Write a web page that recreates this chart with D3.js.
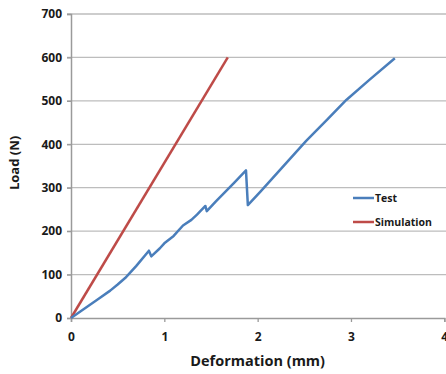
<!DOCTYPE html>
<html>
<head>
<meta charset="utf-8">
<script src="https://cdn.jsdelivr.net/npm/d3@7"></script>
<style>
  body { margin: 0; background: #fff; }
  svg text { font-family: "Open Sans", "DejaVu Sans", sans-serif; font-weight: bold; fill: #1a1a1a; }
</style>
</head>
<body>
<div id="chart"></div>
<script>
// tick labels
const xTicks = [0, 1, 2, 3, 4];
const yTicks = [0, 100, 200, 300, 400, 500, 600, 700];

// Test series (deformation mm, load N)
const testX = [0, 0.1, 0.2, 0.3, 0.42, 0.5, 0.58, 0.7, 0.835, 0.86, 0.95, 1.0, 1.1, 1.2, 1.29, 1.35, 1.44, 1.455, 1.55, 1.65, 1.75, 1.875, 1.895, 2.03, 2.24, 2.52, 2.75, 2.95, 3.2, 3.47];
const testY = [0, 15, 30, 45, 63, 77, 92, 120, 155, 142, 160, 172, 189, 213, 226, 238, 258, 246, 268, 290, 312, 340, 260, 291, 341, 408, 458, 502, 549, 598];

// Simulation series
const simX = [0, 1.68];
const simY = [0, 600];

const seriesNames = ["Test", "Simulation"];
const seriesColors = ["#4a7ebb", "#be4b48"];

var width = 446, height = 374;
var margin = { top: 14, right: 2, bottom: 56, left: 71 };

var svg = d3.select("#chart")
    .append("svg")
    .attr("width", width)
    .attr("height", height);

var x = d3.scaleLinear()
    .domain([0, 4])
    .range([margin.left, width - margin.right + 0.3]);

var y = d3.scaleLinear()
    .domain([0, 700])
    .range([height - margin.bottom, margin.top]);

// gridlines
svg.append("g")
    .selectAll("line")
    .data(yTicks.filter(function(d) { return d > 0; }))
    .join("line")
    .attr("x1", margin.left - 4)
    .attr("x2", width)
    .attr("y1", function(d) { return y(d); })
    .attr("y2", function(d) { return y(d); })
    .attr("stroke", "#bdbdbd")
    .attr("stroke-width", 1.3);

// y axis
var yAxis = svg.append("g")
    .attr("transform", "translate(" + margin.left + ",0)")
    .call(d3.axisLeft(y).tickValues(yTicks).tickSize(4).tickPadding(5));
yAxis.selectAll("line").attr("stroke", "#9a9a9a").attr("stroke-width", 1.3);
yAxis.select(".domain").attr("stroke", "#9a9a9a").attr("stroke-width", 1.5);
yAxis.selectAll("text").style("font-size", "12px");

// x axis
var xAxis = svg.append("g")
    .attr("transform", "translate(0," + y(0) + ")")
    .call(d3.axisBottom(x).tickValues(xTicks).tickFormat(d3.format("d")).tickSize(4).tickPadding(10));
xAxis.select(".domain").attr("stroke", "#9a9a9a").attr("stroke-width", 1.5);
xAxis.selectAll("line").attr("stroke", "#9a9a9a").attr("stroke-width", 1.3);
xAxis.selectAll("text").style("font-size", "12px");

// axis titles
svg.append("text")
    .attr("x", x(2))
    .attr("y", 366)
    .attr("text-anchor", "middle")
    .style("font-size", "14.5px")
    .text("Deformation (mm)");

svg.append("text")
    .attr("transform", "translate(19,163) rotate(-90)")
    .attr("text-anchor", "middle")
    .style("font-size", "13px")
    .text("Load (N)");

// lines
var line = d3.line()
    .x(function(d) { return x(d[0]); })
    .y(function(d) { return y(d[1]); });

var simData = simX.map(function(d, i) { return [d, simY[i]]; });
var testData = testX.map(function(d, i) { return [d, testY[i]]; });

svg.append("path")
    .datum(simData)
    .attr("fill", "none")
    .attr("stroke", seriesColors[1])
    .attr("stroke-width", 2.5)
    .attr("d", line);

svg.append("path")
    .datum(testData)
    .attr("fill", "none")
    .attr("stroke", seriesColors[0])
    .attr("stroke-width", 2.5)
    .attr("stroke-linejoin", "round")
    .attr("d", line);

// legend
var legend = svg.append("g")
    .attr("transform", "translate(353,198)");
seriesNames.forEach(function(name, i) {
    var g = legend.append("g").attr("transform", "translate(0," + (i * 24) + ")");
    g.append("line")
        .attr("x1", 0).attr("x2", 21)
        .attr("stroke", seriesColors[i])
        .attr("stroke-width", 2.5);
    g.append("text")
        .attr("x", 22)
        .attr("dy", "0.35em")
        .style("font-size", "10.5px")
        .text(name);
});
</script>
</body>
</html>
